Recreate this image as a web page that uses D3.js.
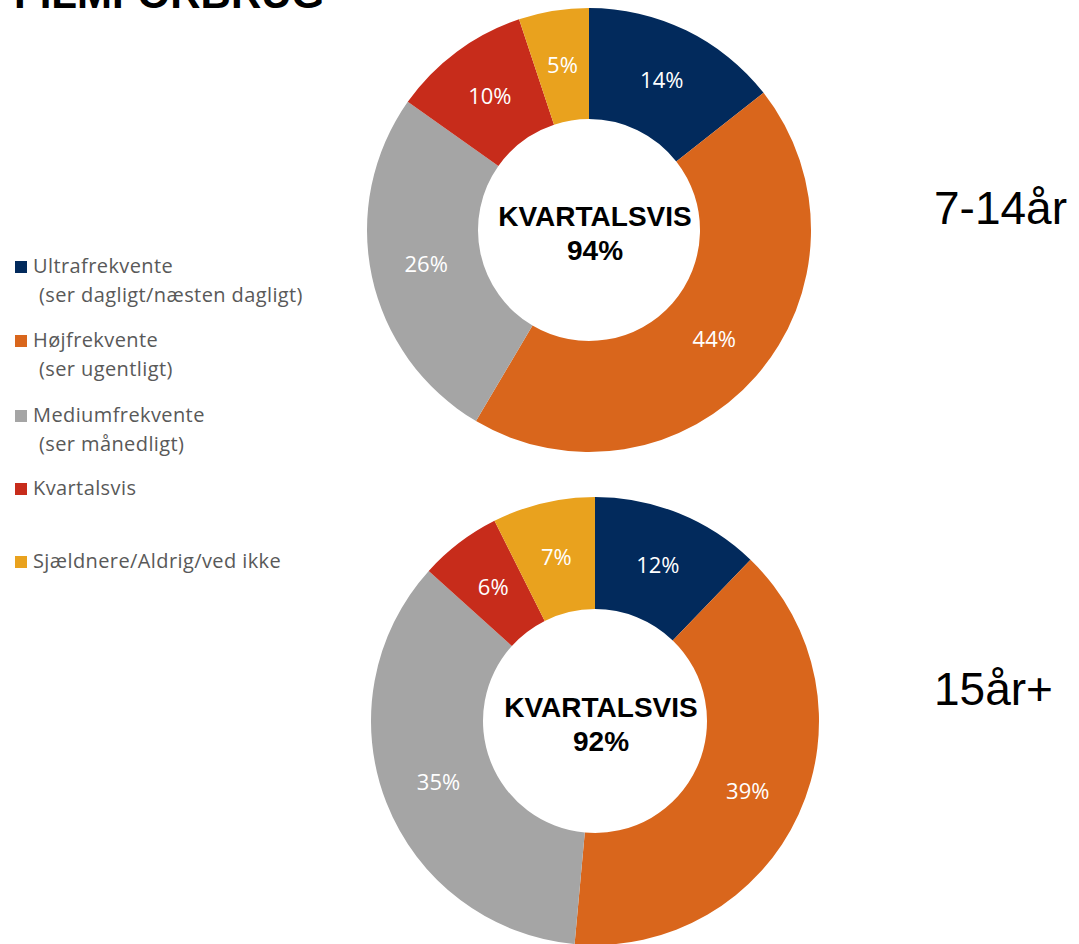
<!DOCTYPE html>
<html>
<head>
<meta charset="utf-8">
<script src="https://cdn.jsdelivr.net/npm/d3@7"></script>
<style>
  html, body { margin: 0; padding: 0; background: #fff; }
  svg { display: block; }
</style>
</head>
<body>
<svg id="chart" width="1079" height="944"></svg>
<script>
const categories = ["Ultrafrekvente", "Højfrekvente", "Mediumfrekvente", "Kvartalsvis", "Sjældnere/Aldrig/ved ikke"];
const legendSub = ["(ser dagligt/næsten dagligt)", "(ser ugentligt)", "(ser månedligt)", null, null];
const colors = ["#022a5c", "#d9661c", "#a5a5a5", "#c72c1b", "#e9a21e"];

const groups = ["7-14år", "15år+"];
const values7to14 = [14.4, 44.1, 26.3, 10.1, 5.1];
const values15plus = [12.2, 39.2, 35.2, 5.9, 7.4];
const labels7to14 = ["14%", "44%", "26%", "10%", "5%"];
const labels15plus = ["12%", "39%", "35%", "6%", "7%"];
const centerTotals = ["94%", "92%"];

const svg = d3.select("#chart");

// title, mostly cut off at the top (as in the original slide)
svg.append("text")
    .attr("x", 14)
    .attr("y", 8)
    .attr("font-family", "Liberation Sans, Arial, sans-serif")
    .attr("font-weight", "bold")
    .attr("font-size", 42)
    .attr("fill", "#000")
    .text("FILMFORBRUG");

const color = d3.scaleOrdinal().domain(categories).range(colors);
const pie = d3.pie().sort(null).value(d => d.value);

const donuts = [
    { cx: 589, cy: 230, r: 222, values: values7to14, labels: labels7to14, total: centerTotals[0], name: groups[0], ny: 224 },
    { cx: 595, cy: 721, r: 224, values: values15plus, labels: labels15plus, total: centerTotals[1], name: groups[1], ny: 705 }
];

donuts.forEach(dn => {
    const data = categories.map((c, i) => ({ cat: c, value: dn.values[i], label: dn.labels[i] }));
    const arc = d3.arc().innerRadius(dn.r * 0.5).outerRadius(dn.r);
    const g = svg.append("g").attr("transform", `translate(${dn.cx},${dn.cy})`);

    g.selectAll("path.slice")
        .data(pie(data))
        .enter().append("path")
        .attr("class", "slice")
        .attr("d", arc)
        .attr("fill", d => color(d.data.cat));

    g.selectAll("text.lbl")
        .data(pie(data))
        .enter().append("text")
        .attr("class", "lbl")
        .attr("transform", d => `translate(${arc.centroid(d)})`)
        .attr("text-anchor", "middle")
        .attr("dy", "0.35em")
        .attr("font-family", "Open Sans, sans-serif")
        .attr("font-size", 22)
        .attr("fill", "#fff")
        .text(d => d.data.label);

    g.append("text")
        .attr("x", 6)
        .attr("y", -4)
        .attr("text-anchor", "middle")
        .attr("font-family", "Liberation Sans, Arial, sans-serif")
        .attr("font-weight", "bold")
        .attr("font-size", 28)
        .attr("fill", "#000")
        .text("KVARTALSVIS");

    g.append("text")
        .attr("x", 6)
        .attr("y", 30)
        .attr("text-anchor", "middle")
        .attr("font-family", "Liberation Sans, Arial, sans-serif")
        .attr("font-weight", "bold")
        .attr("font-size", 28)
        .attr("fill", "#000")
        .text(dn.total);

    svg.append("text")
        .attr("x", 934)
        .attr("y", dn.ny)
        .attr("font-family", "Liberation Sans, Arial, sans-serif")
        .attr("font-size", 46)
        .attr("fill", "#000")
        .text(dn.name);
});

// legend
const legendY = [273, 347, 422, 495, 568];
const legend = svg.append("g")
    .attr("font-family", "Open Sans, sans-serif")
    .attr("font-size", 20)
    .attr("letter-spacing", 0.4)
    .attr("fill", "#595959");
categories.forEach((c, i) => {
    legend.append("rect")
        .attr("x", 15)
        .attr("y", legendY[i] - 12)
        .attr("width", 12)
        .attr("height", 12)
        .attr("fill", color(c));
    legend.append("text")
        .attr("x", 33)
        .attr("y", legendY[i])
        .text(c);
    if (legendSub[i]) {
        legend.append("text")
            .attr("x", 39)
            .attr("y", legendY[i] + 29)
            .text(legendSub[i]);
    }
});
</script>
</body>
</html>
